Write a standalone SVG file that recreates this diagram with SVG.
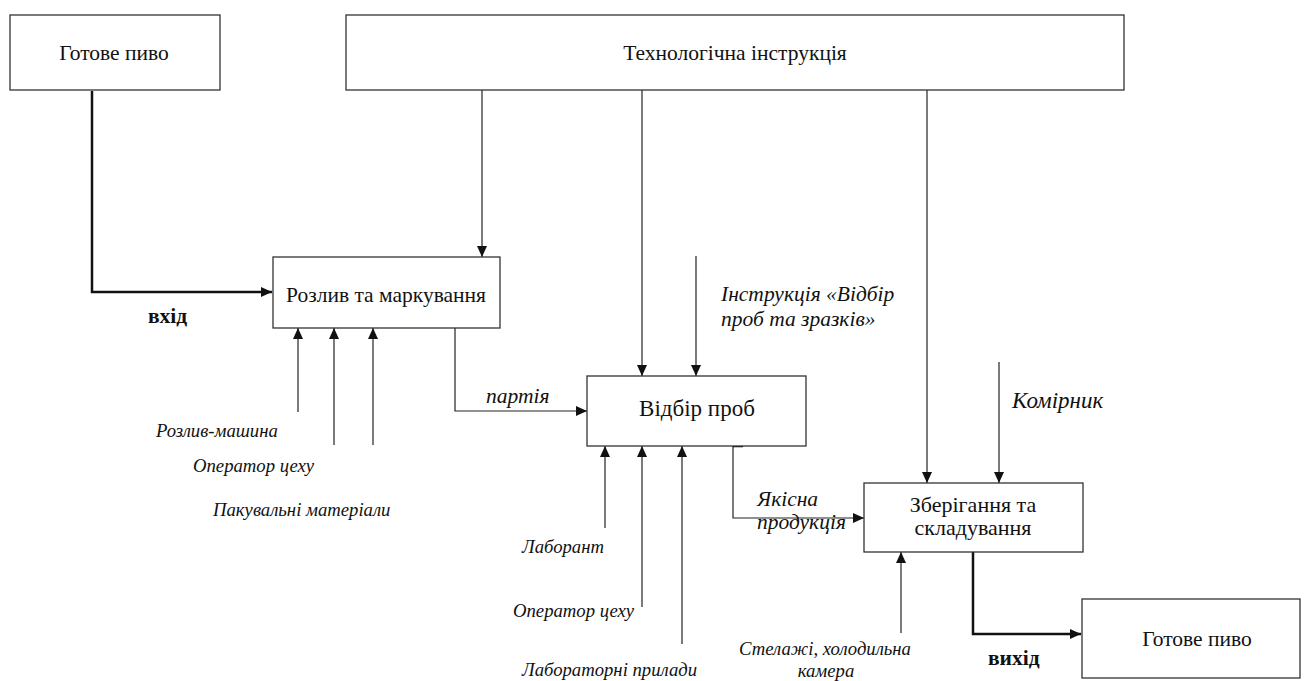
<svg xmlns="http://www.w3.org/2000/svg" width="1307" height="681" viewBox="0 0 1307 681">
<style>
.box{fill:#fff;stroke:#333;stroke-width:1.3}
.t{font-family:"Liberation Serif","Times New Roman","DejaVu Serif",serif;font-size:21.5px;fill:#111;text-anchor:middle}
.i{font-family:"Liberation Serif","Times New Roman","DejaVu Serif",serif;font-size:18.7px;font-style:italic;fill:#111}
.w{font-size:21.5px}
.b{font-family:"Liberation Serif","Times New Roman","DejaVu Serif",serif;font-size:21.5px;font-weight:bold;fill:#111}
.c{fill:none;stroke:#222;stroke-width:1.2}
.thick{fill:none;stroke:#111;stroke-width:2.5}
</style>
<defs>
<marker id="ah" markerUnits="userSpaceOnUse" markerWidth="12" markerHeight="10" refX="11" refY="5" orient="auto">
<path d="M0,0 L11,5 L0,10 Z" fill="#111"/>
</marker>
</defs>
<g id="connectors">
<path class="thick" d="M92,91 V292 H272" marker-end="url(#ah)"/>
<path class="c" d="M482,90 V257" marker-end="url(#ah)"/>
<path class="c" d="M642,90 V376" marker-end="url(#ah)"/>
<path class="c" d="M927,90 V483" marker-end="url(#ah)"/>
<path class="c" d="M696,256 V376" marker-end="url(#ah)"/>
<path class="c" d="M999,362 V483" marker-end="url(#ah)"/>
<path class="c" d="M298,412 V328" marker-end="url(#ah)"/>
<path class="c" d="M334,445 V328" marker-end="url(#ah)"/>
<path class="c" d="M373,445 V328" marker-end="url(#ah)"/>
<path class="c" d="M455,328 V411 H587" marker-end="url(#ah)"/>
<path class="c" d="M605,528 V446" marker-end="url(#ah)"/>
<path class="c" d="M642,607 V446" marker-end="url(#ah)"/>
<path class="c" d="M682,644 V446" marker-end="url(#ah)"/>
<path class="c" d="M733,446 V518 H864" marker-end="url(#ah)"/>
<path class="thick" d="M733,446 H743"/>
<path class="c" d="M901,633 V552" marker-end="url(#ah)"/>
<path class="thick" d="M973,552 V634 H1081" marker-end="url(#ah)"/>
</g>
<g id="node-input">
<rect class="box" x="10" y="15" width="210" height="75"/>
<text class="t" x="114" y="60">Готове пиво</text>
</g>
<g id="node-tech">
<rect class="box" x="346" y="15" width="778" height="75"/>
<text class="t" x="735" y="60">Технологічна інструкція</text>
</g>
<g id="node-rozlyv">
<rect class="box" x="273" y="257" width="227" height="71"/>
<text class="t" x="386" y="302">Розлив та маркування</text>
</g>
<g id="node-vidbir">
<rect class="box" x="587" y="376" width="219" height="70"/>
<text class="t" x="697" y="416" style="font-size:23px">Відбір проб</text>
</g>
<g id="node-zberihannia">
<rect class="box" x="864" y="483" width="219" height="69"/>
<text class="t" x="973" y="512" style="font-size:22px">Зберігання та</text>
<text class="t" x="973" y="535" style="font-size:22px">складування</text>
</g>
<g id="node-output">
<rect class="box" x="1082" y="599" width="218" height="79"/>
<text class="t" x="1197" y="646">Готове пиво</text>
</g>
<g id="labels">
<text class="b" x="148" y="323">вхід</text>
<text class="b" x="988" y="665">вихід</text>
<text class="i" x="156" y="437">Розлив-машина</text>
<text class="i" x="193" y="472">Оператор цеху</text>
<text class="i" x="213" y="516">Пакувальні матеріали</text>
<text class="i w" x="486" y="403">партія</text>
<text class="i w" x="721" y="301">Інструкція «Відбір</text>
<text class="i w" x="721" y="326">проб та зразків»</text>
<text class="i" x="522" y="553">Лаборант</text>
<text class="i" x="513" y="617">Оператор цеху</text>
<text class="i" x="522" y="676">Лабораторні прилади</text>
<text class="i w" x="757" y="506">Якісна</text>
<text class="i w" x="757" y="529">продукція</text>
<text class="i" x="1012" y="408" style="font-size:23px">Комірник</text>
<text class="i" x="825" y="655" text-anchor="middle">Стелажі, холодильна</text>
<text class="i" x="826" y="677" text-anchor="middle">камера</text>
</g>
</svg>
